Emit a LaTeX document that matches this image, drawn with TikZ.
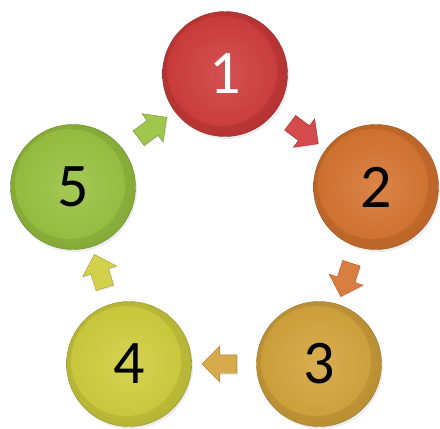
\documentclass[tikz,border=0pt]{standalone}
\usepackage{fontspec}
\setmainfont{Carlito}
\usetikzlibrary{shapes.arrows,shadows}
\definecolor{stepred}{HTML}{CF3B3B}
\definecolor{steporange}{HTML}{D5732F}
\definecolor{stepgold}{HTML}{D3A33B}
\definecolor{stepyellow}{HTML}{CFCD3C}
\definecolor{stepgreen}{HTML}{98C13F}
\tikzset{
  disc/.style     = {circle,minimum size=125pt,inner sep=0pt,
                     inner color=#1,outer color=#1!88!black,
                     draw=#1!70!black,line width=0.4pt,
                     drop shadow={opacity=0.15,shadow xshift=1.5pt,shadow yshift=-2.5pt},
                     path picture={\shade[inner color=#1!88!white,outer color=#1!96!black]
                       ([xshift=-3pt,yshift=3pt]path picture bounding box.center) circle (55pt);},
                     font=\fontsize{62}{62}\selectfont},
  blockarr/.style = {single arrow,allow upside down,inner xsep=0pt,inner ysep=9pt,
                     minimum height=35pt,minimum width=35pt,single arrow head extend=8.5pt,
                     fill=#1!92!white,draw=#1!75!black,line width=0.4pt,
                     drop shadow={opacity=0.15,shadow xshift=1pt,shadow yshift=-1.5pt}}
}
\begin{document}
\begin{tikzpicture}[x=1pt,y=-1pt]
  \useasboundingbox (0,0) rectangle (440,429);
  % the five steps
  \node[disc=stepred,text=white] (c1) at (225,74)  {1};
  \node[disc=steporange]         (c2) at (376,187) {2};
  \node[disc=stepgold]           (c3) at (319,364) {3};
  \node[disc=stepyellow]         (c4) at (129,364) {4};
  \node[disc=stepgreen]          (c5) at (73,187)  {5};
  % arrows between them
  \path (c1) -- (c2) node[midway,sloped,blockarr=stepred]    (a12) {};
  \path (c2) -- (c3) node[midway,sloped,blockarr=steporange] (a23) {};
  \path (c3) -- (c4) node[midway,sloped,blockarr=stepgold]   (a34) {};
  \path (c4) -- (c5) node[midway,sloped,blockarr=stepyellow] (a45) {};
  \path (c5) -- (c1) node[midway,sloped,blockarr=stepgreen]  (a51) {};
\end{tikzpicture}
\end{document}
